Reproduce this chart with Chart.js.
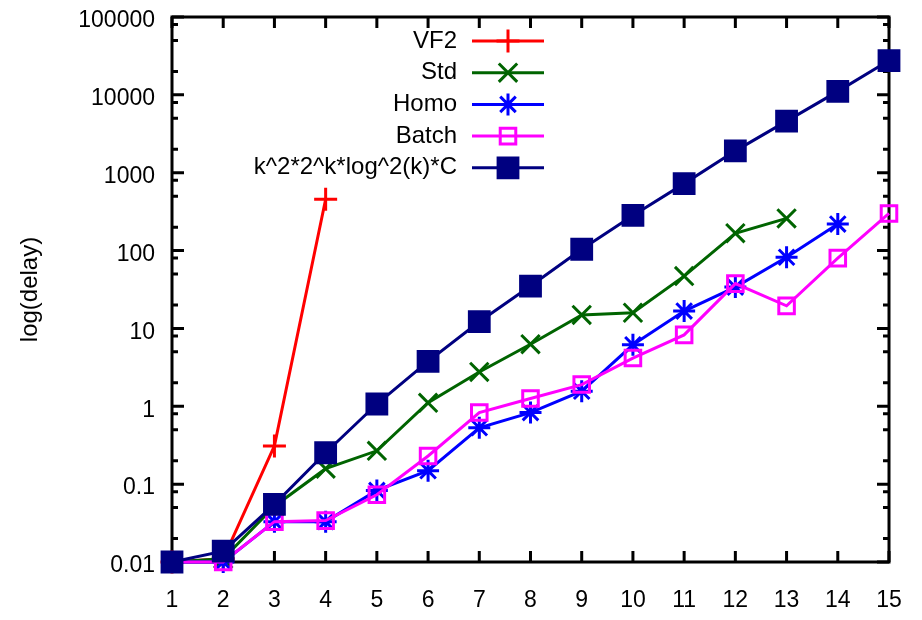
<!DOCTYPE html>
<html>
<head>
<meta charset="utf-8">
<script src="https://cdn.jsdelivr.net/npm/chart.js@4.4.1/dist/chart.umd.min.js"></script>
<style>
  html, body { margin: 0; padding: 0; background: #fff; }
</style>
</head>
<body>
<canvas id="chart" width="922" height="620"></canvas>
<script>
const sizes  = ["1", "2", "3", "4", "5", "6", "7", "8", "9", "10", "11", "12", "13", "14", "15"]
const vf2    = [0.01, 0.011, 0.31, 456]
const std    = [0.01, 0.011, 0.052, 0.158, 0.268, 1.11, 2.76, 6.27, 14.9, 15.9, 47, 167, 259]
const homo   = [0.01, 0.01, 0.033, 0.033, 0.083, 0.149, 0.53, 0.83, 1.56, 6.16, 16.7, 34, 82, 219]
const batch  = [0.01, 0.01, 0.033, 0.034, 0.073, 0.23, 0.83, 1.26, 1.9, 4.16, 8.26, 37.6, 19.5, 80, 300]
const bound  = [0.01, 0.0138, 0.055, 0.253, 1.07, 3.77, 12.2, 35, 104, 283, 724, 1910, 4600, 11100, 27600]
const yTicks = [0.01, 0.1, 1, 10, 100, 1000, 10000, 100000]
const yMinor = [2, 5, 8]

const font = "Liberation Sans, Arial, sans-serif"

const series = (label, data, color, style, radius, fill, order) => ({
  label, data, order,
  borderColor: color,
  backgroundColor: color,
  borderWidth: 3,
  tension: 0,
  pointStyle: style,
  pointRadius: radius,
  pointHoverRadius: radius,
  pointBorderWidth: 3,
  pointBorderColor: color,
  pointBackgroundColor: fill,
  clip: false
})

// box with inward ticks, gnuplot style
const frame = {
  id: "frame",
  beforeDatasetsDraw(chart) {
    const { ctx, chartArea: a, scales: { x, y } } = chart
    ctx.save()
    ctx.strokeStyle = "#000"
    ctx.lineWidth = 3
    ctx.strokeRect(a.left, a.top, a.right - a.left, a.bottom - a.top)
    ctx.beginPath()
    sizes.forEach((s, i) => {
      const px = x.getPixelForValue(i)
      ctx.moveTo(px, a.bottom); ctx.lineTo(px, a.bottom - 11)
      ctx.moveTo(px, a.top);    ctx.lineTo(px, a.top + 11)
    })
    yTicks.forEach((v, i) => {
      const py = y.getPixelForValue(v)
      ctx.moveTo(a.left, py);  ctx.lineTo(a.left + 12, py)
      ctx.moveTo(a.right, py); ctx.lineTo(a.right - 12, py)
      if (i === yTicks.length - 1) return
      yMinor.forEach(m => {
        const pm = y.getPixelForValue(v * m)
        ctx.moveTo(a.left, pm);  ctx.lineTo(a.left + 6, pm)
        ctx.moveTo(a.right, pm); ctx.lineTo(a.right - 6, pm)
      })
    })
    ctx.stroke()
    ctx.restore()
  }
}

// legend: text on the left, sample line + marker on the right
const keyBox = {
  id: "keyBox",
  afterDatasetsDraw(chart) {
    const { ctx } = chart
    ctx.save()
    ctx.font = `24px ${font}`
    ctx.textAlign = "right"
    ctx.textBaseline = "middle"
    chart.data.datasets.forEach((ds, i) => {
      const ry = 41 + i * 31.7
      ctx.fillStyle = "#000"
      ctx.fillText(ds.label, 457, ry)
      ctx.strokeStyle = ds.borderColor
      ctx.lineWidth = 3
      ctx.beginPath()
      ctx.moveTo(472, ry); ctx.lineTo(544, ry)
      ctx.stroke()
      ctx.fillStyle = ds.pointBackgroundColor
      Chart.helpers.drawPoint(ctx, {
        pointStyle: ds.pointStyle, radius: ds.pointRadius, rotation: 0, borderWidth: 3
      }, 508, ry)
    })
    ctx.restore()
  }
}

new Chart(document.getElementById("chart"), {
  type: "line",
  data: {
    labels: sizes,
    datasets: [
      series("VF2", vf2, "#ff0000", "cross", 11.5, "#ff0000", 4),
      series("Std", std, "#006400", "crossRot", 13, "#006400", 3),
      series("Homo", homo, "#0000ff", "star", 11, "#0000ff", 2),
      series("Batch", batch, "#ff00ff", "rect", 11, "rgba(0,0,0,0)", 1),
      series("k^2*2^k*log^2(k)*C", bound, "#000080", "rect", 14, "#000080", 0)
    ]
  },
  options: {
    responsive: false,
    animation: false,
    layout: { padding: { left: 10, right: 33, top: 13, bottom: 0 } },
    plugins: { legend: { display: false }, tooltip: { enabled: false } },
    scales: {
      x: {
        type: "category",
        offset: false,
        grid: { display: false, drawTicks: false },
        border: { display: false },
        ticks: {
          color: "#000", font: { family: font, size: 23 },
          padding: 25, maxRotation: 0, autoSkip: false
        },
        afterFit: s => { s.height = 58; s.paddingLeft = 0; s.paddingRight = 0 }
      },
      y: {
        type: "logarithmic",
        min: 0.01,
        max: 100000,
        grid: { display: false, drawTicks: false },
        border: { display: false },
        ticks: {
          color: "#000", font: { family: font, size: 23 },
          padding: 17, labelOffset: 4,
          callback: v => String(v)
        },
        afterBuildTicks: s => { s.ticks = yTicks.map(v => ({ value: v })) },
        afterFit: s => { s.width = 162; s.paddingTop = 0; s.paddingBottom = 0 },
        title: {
          display: true, text: "log(delay)", color: "#000",
          font: { family: font, size: 24 },
          padding: { top: 6, bottom: 0 }
        }
      }
    }
  },
  plugins: [frame, keyBox]
})
</script>
</body>
</html>
